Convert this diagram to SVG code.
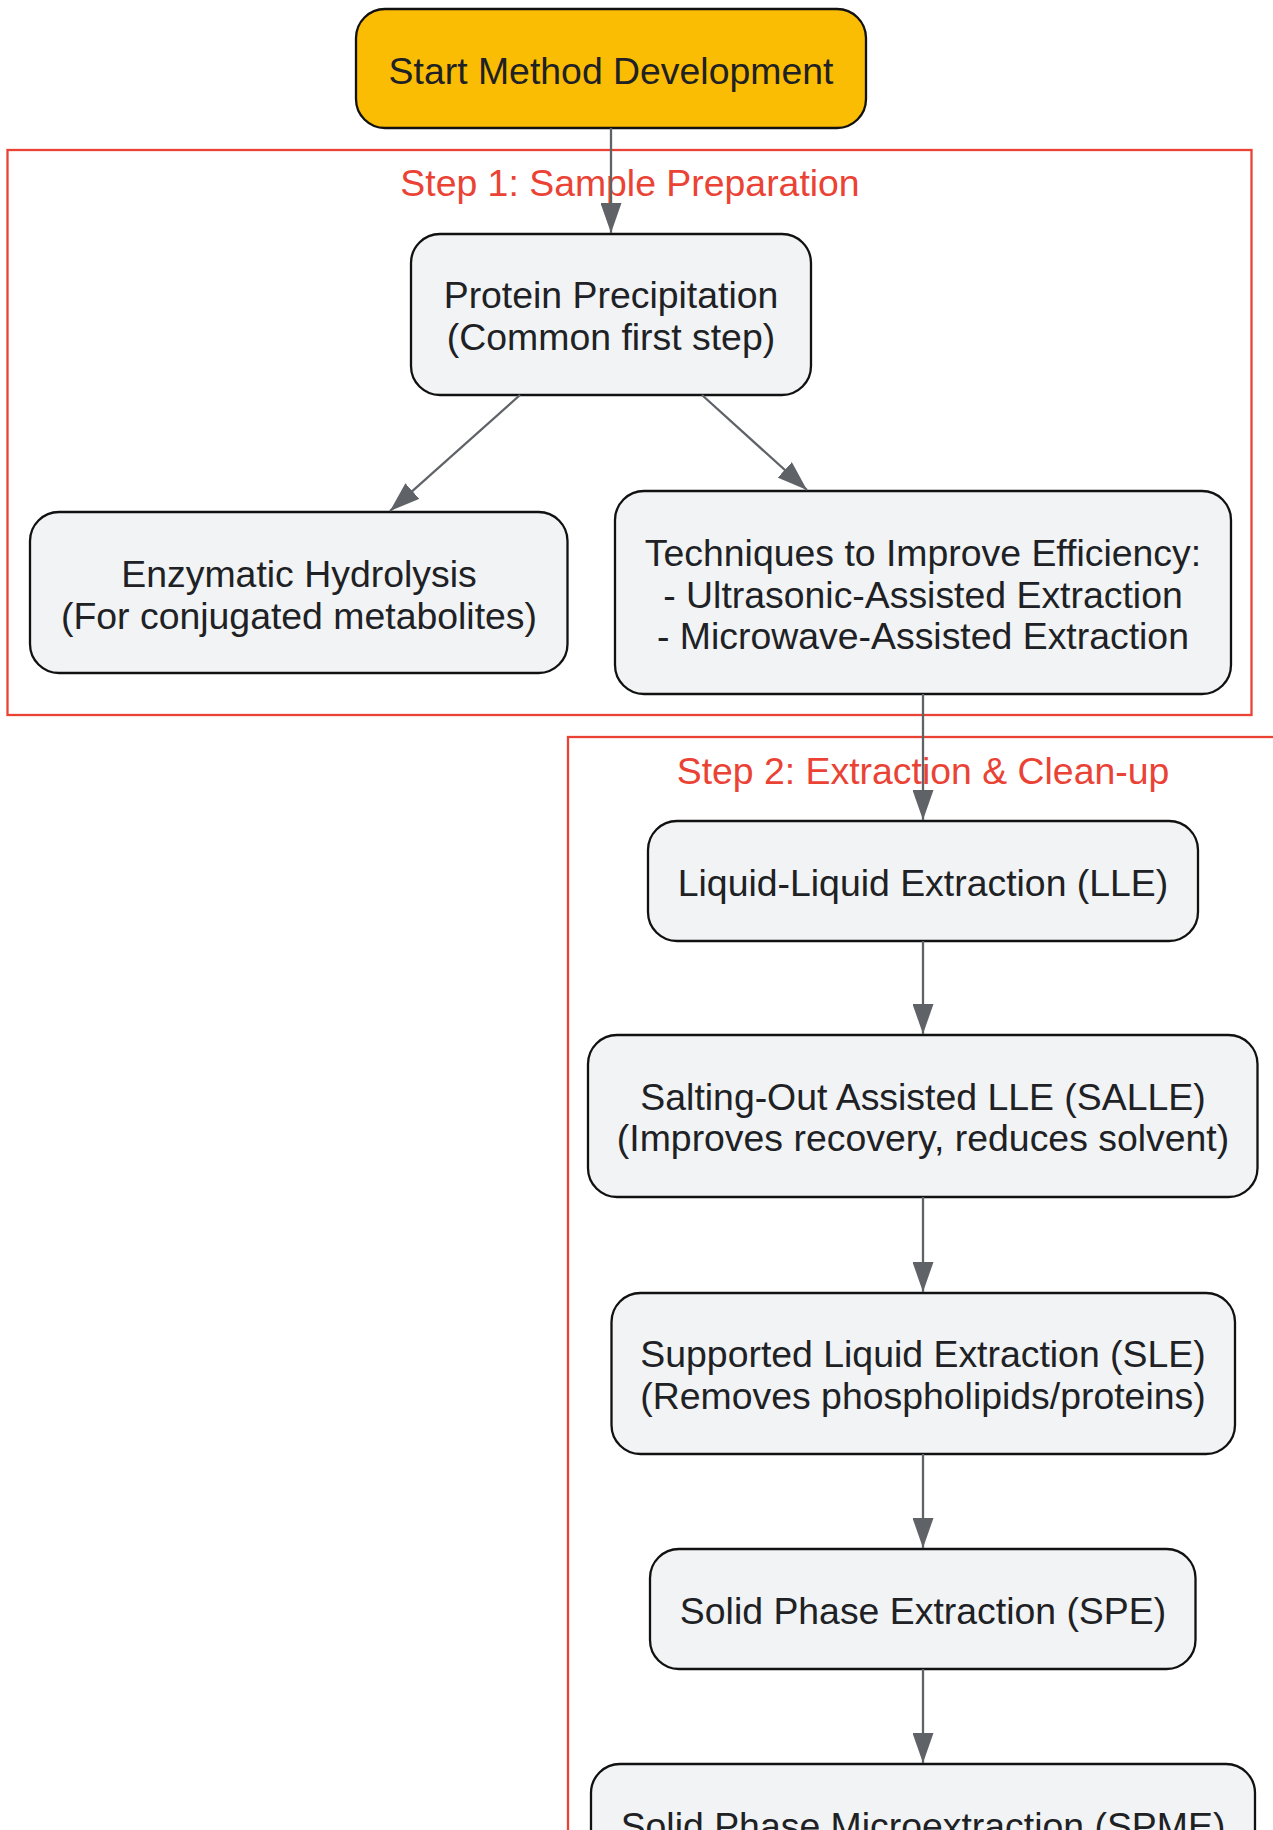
<svg xmlns="http://www.w3.org/2000/svg" width="1273" height="1830" viewBox="0 0 1273 1830">
<style>
.node rect{fill:#F1F3F4;stroke:#111;stroke-width:2.3}
.start rect{fill:#FBBC04}
.t{font-family:"Liberation Sans",Arial,sans-serif;font-size:37.4px;fill:#202124;text-anchor:middle}
.cl{fill:none;stroke:#EA4335;stroke-width:2.3}
.ct{font-family:"Liberation Sans",Arial,sans-serif;font-size:37.4px;fill:#EA4335;text-anchor:middle}
.e{stroke:#5F6368;stroke-width:2.3;fill:none;marker-end:url(#ah)}
</style>
<defs>
<marker id="ah" viewBox="0 0 30 21" markerWidth="30" markerHeight="21" refX="30" refY="10.5" markerUnits="userSpaceOnUse" orient="auto">
<path d="M0,0 L30,10.5 L0,21 z" fill="#5F6368"/>
</marker>
</defs>
<rect width="1273" height="1830" fill="#fff"/>
<g id="cluster-step1">
<rect class="cl" x="7.5" y="150" width="1244" height="565"/>
<text class="ct" x="630" y="196">Step 1: Sample Preparation</text>
</g>
<g id="cluster-step2">
<rect class="cl" x="568" y="737" width="720" height="1120"/>
<text class="ct" x="923" y="784">Step 2: Extraction &amp; Clean-up</text>
</g>
<g id="start" class="node start">
<rect x="356" y="9" width="510" height="119" rx="29"/>
<text class="t" x="611" y="84">Start Method Development</text>
</g>
<g id="protein" class="node">
<rect x="411" y="234" width="400" height="161" rx="29"/>
<text class="t" x="611" y="308">Protein Precipitation</text>
<text class="t" x="611" y="349.5">(Common first step)</text>
</g>
<g id="enzymatic" class="node">
<rect x="30" y="512" width="537.5" height="161" rx="29"/>
<text class="t" x="299" y="587">Enzymatic Hydrolysis</text>
<text class="t" x="299" y="628.5">(For conjugated metabolites)</text>
</g>
<g id="techniques" class="node">
<rect x="615" y="491" width="616" height="203" rx="29"/>
<text class="t" x="923" y="566">Techniques to Improve Efficiency:</text>
<text class="t" x="923" y="607.5">- Ultrasonic-Assisted Extraction</text>
<text class="t" x="923" y="649">- Microwave-Assisted Extraction</text>
</g>
<g id="lle" class="node">
<rect x="648" y="821" width="550" height="120" rx="29"/>
<text class="t" x="923" y="896">Liquid-Liquid Extraction (LLE)</text>
</g>
<g id="salle" class="node">
<rect x="588" y="1035" width="669.5" height="162" rx="29"/>
<text class="t" x="923" y="1109.5">Salting-Out Assisted LLE (SALLE)</text>
<text class="t" x="923" y="1151">(Improves recovery, reduces solvent)</text>
</g>
<g id="sle" class="node">
<rect x="611.5" y="1293" width="623.5" height="161" rx="29"/>
<text class="t" x="923" y="1367">Supported Liquid Extraction (SLE)</text>
<text class="t" x="923" y="1408.5">(Removes phospholipids/proteins)</text>
</g>
<g id="spe" class="node">
<rect x="650" y="1549" width="545.5" height="120" rx="29"/>
<text class="t" x="923" y="1624">Solid Phase Extraction (SPE)</text>
</g>
<g id="spme" class="node">
<rect x="591" y="1764" width="664" height="161" rx="29"/>
<text class="t" x="923" y="1839">Solid Phase Microextraction (SPME)</text>
</g>
<g id="edges">
<line class="e" x1="611" y1="128" x2="611" y2="233"/>
<line class="e" x1="520" y1="395" x2="390" y2="511"/>
<line class="e" x1="702" y1="395" x2="807" y2="490"/>
<line class="e" x1="923" y1="694" x2="923" y2="820"/>
<line class="e" x1="923" y1="941" x2="923" y2="1034"/>
<line class="e" x1="923" y1="1197" x2="923" y2="1292"/>
<line class="e" x1="923" y1="1454" x2="923" y2="1548"/>
<line class="e" x1="923" y1="1669" x2="923" y2="1763"/>
</g>
</svg>
